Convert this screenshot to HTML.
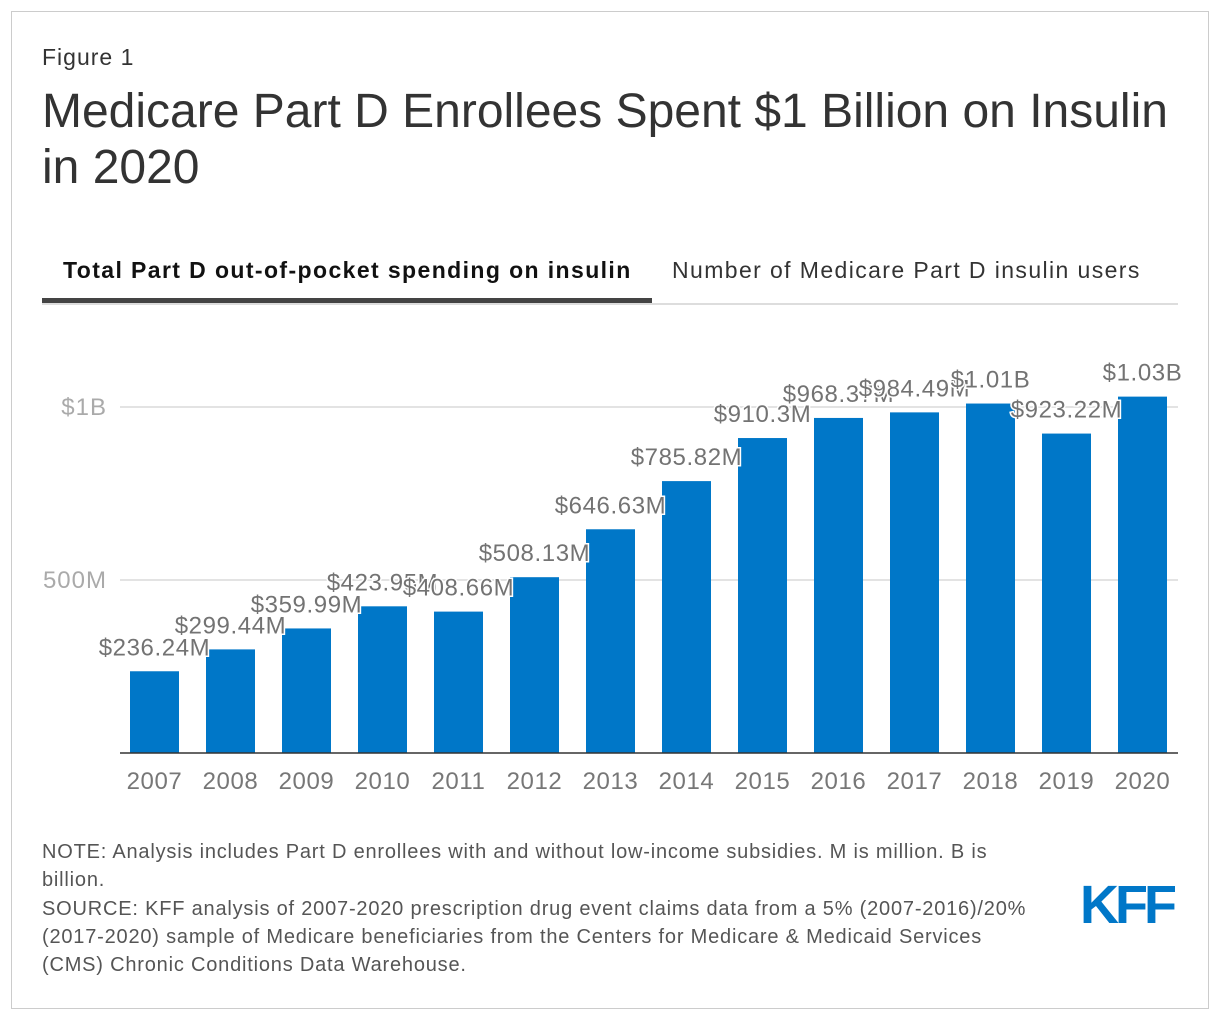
<!DOCTYPE html>
<html><head><meta charset="utf-8"><style>
body{margin:0;background:#fff;font-family:"Liberation Sans",Arial,sans-serif;}
#frame{position:absolute;left:11px;top:11px;width:1196px;height:996px;border:1px solid #ccc;}
.t{position:absolute;white-space:nowrap;}
</style></head><body>
<div id="frame"></div>
<div class="t" style="left:42px;top:44px;font-size:23px;letter-spacing:1px;color:#333">Figure 1</div>
<div class="t" style="left:42px;top:84px;font-size:48px;letter-spacing:0px;line-height:56px;color:#333;white-space:normal;width:1150px">Medicare Part D Enrollees Spent $1 Billion on Insulin in 2020</div>
<div class="t" style="left:63px;top:257px;font-size:23px;letter-spacing:1.4px;font-weight:bold;color:#111">Total Part D out-of-pocket spending on insulin</div>
<div class="t" style="left:672px;top:257px;font-size:23px;letter-spacing:1.4px;color:#333">Number of Medicare Part D insulin users</div>
<div style="position:absolute;left:42px;top:303px;width:1136px;height:2px;background:#ddd"></div>
<div style="position:absolute;left:42px;top:298px;width:610px;height:5px;background:#444"></div>
<svg id="chart" width="1220" height="1020" style="position:absolute;left:0;top:0"></svg>
<div class="t" style="left:42px;top:838px;font-size:20px;letter-spacing:0.8px;line-height:28.3px;color:#555;white-space:normal;width:1002px">NOTE: Analysis includes Part D enrollees with and without low-income subsidies. M is million. B is billion.<br>SOURCE: KFF analysis of 2007-2020 prescription drug event claims data from a 5% (2007-2016)/20% (2017-2020) sample of Medicare beneficiaries from the Centers for Medicare &amp; Medicaid Services (CMS) Chronic Conditions Data Warehouse.</div>
<div class="t" style="left:1080px;top:874px;font-size:54px;font-weight:bold;color:#0077c8;letter-spacing:-4px;">KFF</div>
<script>
const categories=["2007","2008","2009","2010","2011","2012","2013","2014","2015","2016","2017","2018","2019","2020"];
const values=[236.24,299.44,359.99,423.95,408.66,508.13,646.63,785.82,910.3,968.37,984.49,1010,923.22,1030];
const valueLabels=["$236.24M","$299.44M","$359.99M","$423.95M","$408.66M","$508.13M","$646.63M","$785.82M","$910.3M","$968.37M","$984.49M","$1.01B","$923.22M","$1.03B"];
const tickValues=[500,1000];
const tickLabels=["500M","$1B"];
const svg=document.getElementById('chart');
const NS='http://www.w3.org/2000/svg';
const y0=753,pxPer=0.346;
const y=v=>y0-v*pxPer;
const x=i=>130+i*76;
const bw=49;
function mk(tag,attrs,txt){const e=document.createElementNS(NS,tag);for(const k in attrs)e.setAttribute(k,attrs[k]);if(txt!==undefined)e.textContent=txt;svg.appendChild(e);return e;}
const F='Liberation Sans, sans-serif';
tickValues.forEach((v,i)=>{
 const g=mk('line',{x1:120,x2:1178,y1:y(v),y2:y(v),stroke:'#e3e3e3','stroke-width':2});
 
 
 const t=mk('text',{x:107,y:y(v)+8,'text-anchor':'end','font-size':24,'letter-spacing':1,fill:'#aaa','font-family':F},tickLabels[i]);
 
 
});
values.forEach((v,i)=>{
 const r=mk('rect',{x:x(i),y:y(v),width:bw,height:y0-y(v),fill:'#0077c8'});
 
 
 const c=mk('text',{x:x(i)+bw/2,y:789,'text-anchor':'middle','font-size':24,'letter-spacing':0.6,fill:'#777','font-family':F},categories[i]);
 
 
});
const ax=mk('line',{x1:120,x2:1178,y1:y0,y2:y0,stroke:'#333','stroke-width':1.5});


values.forEach((v,i)=>{
 const l=mk('text',{x:x(i)+bw/2,y:y(v)-16,'text-anchor':'middle','font-size':24,'letter-spacing':0.6,fill:'#737373',stroke:'#fff','stroke-width':3,'paint-order':'stroke','font-family':F},valueLabels[i]);
 
 
});
</script>
</body></html>
